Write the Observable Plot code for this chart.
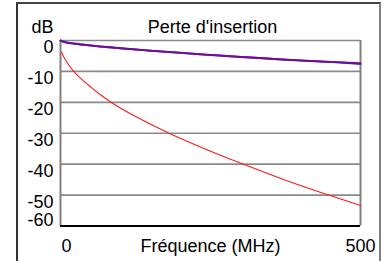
<!DOCTYPE html>
<html>
<head>
<meta charset="utf-8">
<script src="https://cdn.jsdelivr.net/npm/d3@7"></script>
<script src="https://cdn.jsdelivr.net/npm/@observablehq/plot@0.6"></script>
<style>
  html, body { margin: 0; padding: 0; background: #fff; }
  #wrap { position: relative; width: 386px; height: 261px; overflow: hidden; }
  #frame { position: absolute; left: 16px; top: 2px; width: 361px; height: 300px;
           border-left: 2px solid #333; border-top: 2px solid #444; border-right: 2px solid #808080; }
  #chart { position: absolute; left: 0; top: 0; }
</style>
</head>
<body>
<div id="wrap"><div id="frame"></div><div id="chart"></div></div>
<script>
// Data
const title = "Perte d'insertion";
const yUnit = "dB";
const xTitle = "Fréquence (MHz)";
const yTicks = [0, -10, -20, -30, -40, -50, -60];
const xTicks = [0, 500];

const freqTop = [0, 5, 10, 25, 50, 75, 100, 150, 200, 250, 300, 350, 400, 450, 500];
const lossBlue   = [0, -0.4, -0.65, -1.05, -1.6, -2.1, -2.5, -3.3, -4.0, -4.65, -5.3, -5.9, -6.5, -6.95, -7.6];
const lossPurple = [0, -0.4, -0.65, -1.05, -1.6, -2.1, -2.5, -3.3, -4.0, -4.7, -5.3, -5.9, -6.4, -6.9, -7.3];

const freqRed = [1.5, 5, 10, 15, 22, 35, 50, 65, 83, 130, 181, 240, 303, 375, 447, 500];
const lossRed = [-3.8, -5.15, -6.8, -8.25, -10, -12.5, -15, -17.3, -19.8, -25.1, -30, -35, -39.9, -45.2, -50, -53.4];

const blue = freqTop.map((f, i) => ({f, v: lossBlue[i]}));
const purple = freqTop.map((f, i) => ({f, v: lossPurple[i]}));
const red = freqRed.map((f, i) => ({f, v: lossRed[i]}));

const font = "'Liberation Sans', Arial, sans-serif";

const chart = Plot.plot({
  width: 386,
  height: 261,
  marginLeft: 60,
  marginRight: 26,
  marginTop: 40,
  marginBottom: 35.5,
  style: {fontFamily: font, fontSize: "18px", background: "transparent", color: "#000"},
  x: {domain: [0, 500], axis: null},
  y: {domain: [-60, 0], axis: null},
  marks: [
    Plot.ruleY(yTicks.slice(0, 6), {y: d => d, stroke: "#8a8a8a", strokeWidth: 1.6}),
    Plot.ruleX([0], {stroke: "#808080", strokeWidth: 2}),
    Plot.ruleX([500], {stroke: "#808080", strokeWidth: 2}),
    Plot.ruleY([-60], {stroke: "#000", strokeWidth: 2}),
    Plot.line(red, {x: "f", y: "v", stroke: "#ff1a1a", strokeWidth: 1.1, curve: "monotone-x"}),
    Plot.line(blue, {x: "f", y: "v", stroke: "#2020ff", strokeWidth: 2, curve: "monotone-x"}),
    Plot.line(purple, {x: "f", y: "v", stroke: "#7d0a85", strokeWidth: 1.8, curve: "monotone-x"}),
    Plot.text(yTicks.slice(0, 6), {x: 0, y: d => d, text: d => String(d), textAnchor: "end", lineAnchor: "top", dx: -7, fontSize: 18}),
    Plot.text(yTicks.slice(6), {x: 0, y: d => d, text: d => String(d), textAnchor: "end", lineAnchor: "bottom", dx: -7, fontSize: 18}),
    Plot.text(xTicks.slice(0, 1), {x: d => d, y: -60, text: d => String(d), textAnchor: "start", lineAnchor: "bottom", dx: 1, dy: 26, fontSize: 18}),
    Plot.text(xTicks.slice(1), {x: d => d, y: -60, text: d => String(d), textAnchor: "middle", lineAnchor: "bottom", dy: 26, fontSize: 18}),
    Plot.text([xTitle], {frameAnchor: "bottom", text: d => d, lineAnchor: "bottom", dy: 26, fontSize: 18}),
    Plot.text([title], {frameAnchor: "top", text: d => d, lineAnchor: "bottom", dx: 2, dy: -7.5, fontSize: 18}),
    Plot.text([yUnit], {frameAnchor: "top-left", text: d => d, textAnchor: "start", lineAnchor: "bottom", dx: -29, dy: -7.5, fontSize: 18})
  ]
});
document.getElementById("chart").appendChild(chart);
</script>
</body>
</html>
